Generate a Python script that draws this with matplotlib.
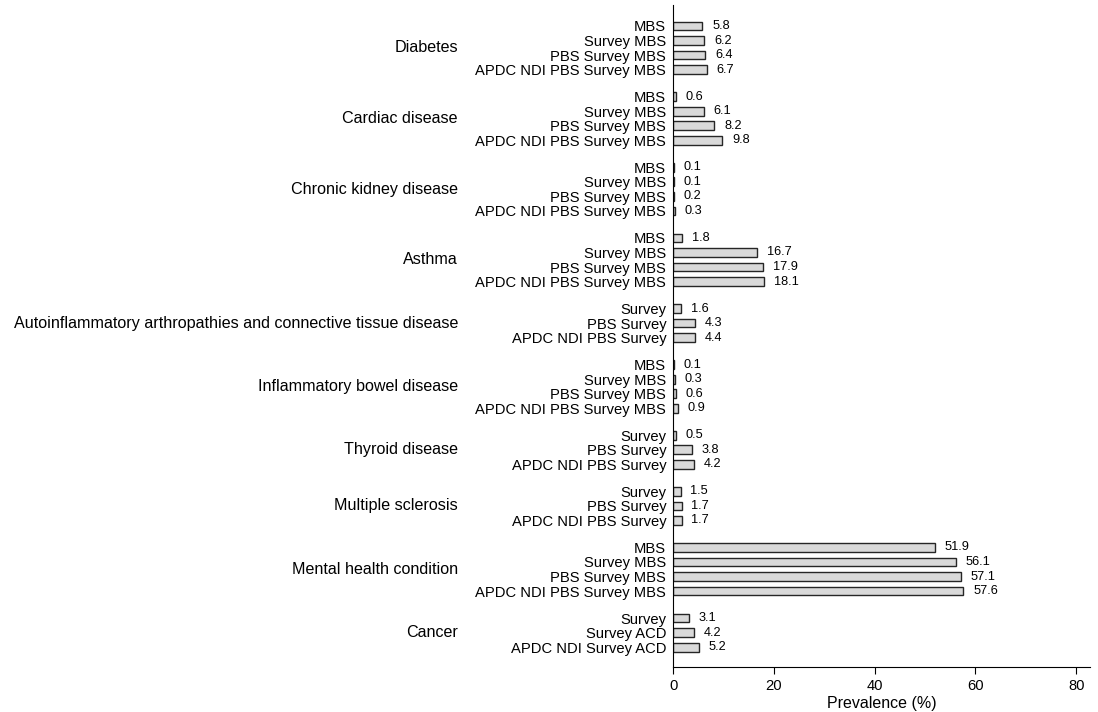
import numpy as np
import matplotlib.pyplot as plt
import matplotlib.transforms as mtransforms

plt.rcParams['font.family'] = ['Liberation Sans', 'DejaVu Sans']

conditions = ['Diabetes', 'Cardiac disease', 'Chronic kidney disease', 'Asthma',
              'Autoinflammatory arthropathies and connective tissue disease',
              'Inflammatory bowel disease', 'Thyroid disease', 'Multiple sclerosis',
              'Mental health condition', 'Cancer']

src4 = ['MBS', 'Survey MBS', 'PBS Survey MBS', 'APDC NDI PBS Survey MBS']
src3 = ['Survey', 'PBS Survey', 'APDC NDI PBS Survey']
src_cancer = ['Survey', 'Survey ACD', 'APDC NDI Survey ACD']

sources = [src4, src4, src4, src4, src3, src4, src3, src3, src4, src_cancer]

values = [
    [5.8, 6.2, 6.4, 6.7],
    [0.6, 6.1, 8.2, 9.8],
    [0.1, 0.1, 0.2, 0.3],
    [1.8, 16.7, 17.9, 18.1],
    [1.6, 4.3, 4.4],
    [0.1, 0.3, 0.6, 0.9],
    [0.5, 3.8, 4.2],
    [1.5, 1.7, 1.7],
    [51.9, 56.1, 57.1, 57.6],
    [3.1, 4.2, 5.2],
]

fig = plt.figure(figsize=(10.98, 7.12), dpi=100)
ax = fig.add_axes([0.613, 0.063, 0.38, 0.93])

gap = 0.85
ypos, labels, vals, centers = [], [], [], []
y = 0.0
for srcs, v in zip(sources, values):
    start = y
    for s, val in zip(srcs, v):
        ypos.append(y)
        labels.append(s)
        vals.append(val)
        y += 1
    centers.append((start + y - 1) / 2)
    y += gap

ax.barh(ypos, vals, height=0.6, color='#d9d9d9', edgecolor='#262626', linewidth=1)
for yy, val in zip(ypos, vals):
    ax.annotate(f'{val:.1f}', (val, yy), xytext=(7, 0), textcoords='offset points',
                va='center', ha='left', fontsize=9.2)

ax.set_yticks(ypos)
ax.set_yticklabels(labels, fontsize=10.6)
ax.tick_params(axis='y', length=0, pad=5)
ax.set_ylim(ypos[-1] + 1.37, ypos[0] - 1.44)

ax.set_xlim(0, 82.8)
ax.set_xticks([0, 20, 40, 60, 80])
ax.tick_params(axis='x', labelsize=10.6, length=5, direction='out')
ax.set_xlabel('Prevalence (%)', fontsize=11.5, labelpad=2)

ax.spines['top'].set_visible(False)
ax.spines['right'].set_visible(False)

trans = mtransforms.blended_transform_factory(fig.transFigure, ax.transData)
for name, c in zip(conditions, centers):
    ax.text(458 / 1098, c, name, transform=trans, ha='right', va='center', fontsize=11.65)

fig.savefig('out.png', dpi=100)
